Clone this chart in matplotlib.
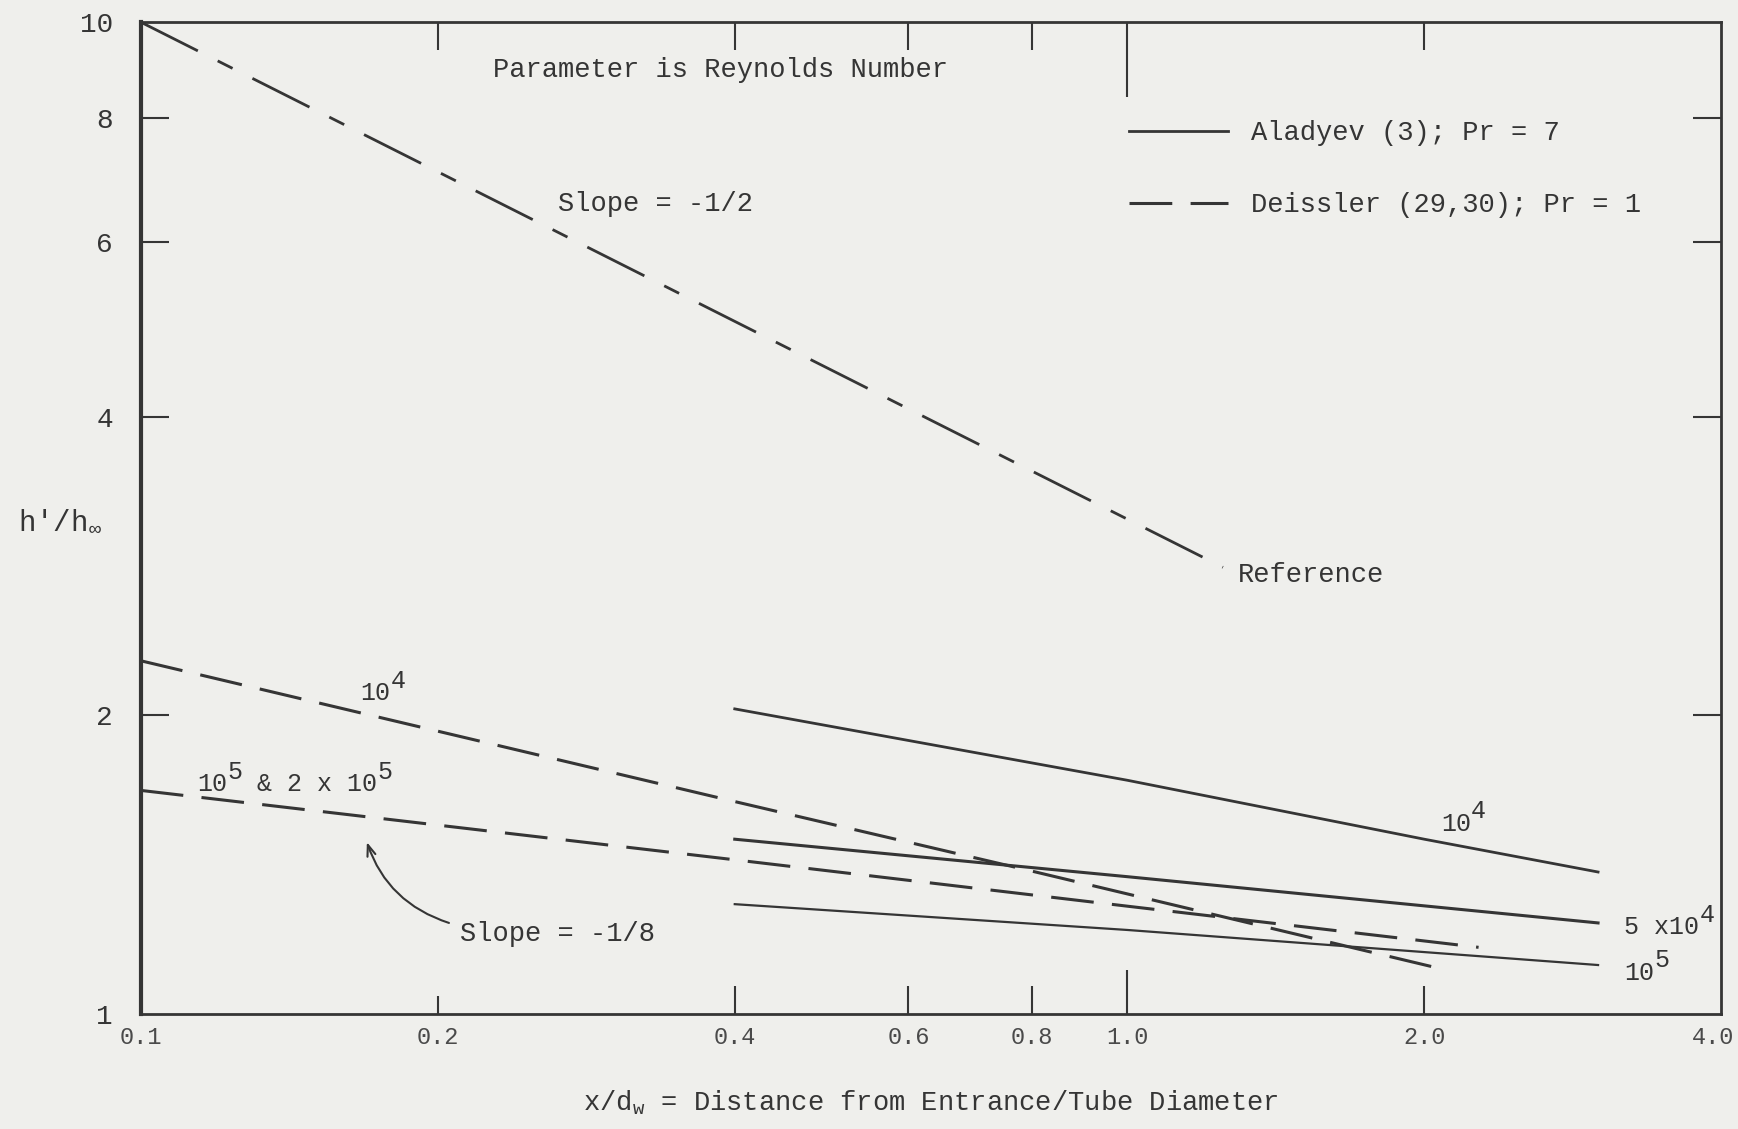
import numpy as np
import matplotlib
matplotlib.use("Agg")
import matplotlib.pyplot as plt
import matplotlib.transforms as mtrans

plt.rcParams['font.family'] = ['Liberation Mono', 'DejaVu Sans Mono']
plt.rcParams['mathtext.fontset'] = 'custom'
plt.rcParams['mathtext.rm'] = 'Liberation Mono'
plt.rcParams['mathtext.it'] = 'Liberation Mono'
plt.rcParams['mathtext.bf'] = 'Liberation Mono:bold'

# reference curve, slope -1/2
ref_x = [0.1, 1.25]
ref_y = [10.0, 2.82]

# Deissler (29,30), Pr = 1
deis_1e4_x = [0.1, 0.4, 0.8, 2.05]
deis_1e4_y = [2.27, 1.637, 1.393, 1.114]
deis_1e5_x = [0.1, 0.4, 1.0, 2.27]
deis_1e5_y = [1.68, 1.43, 1.284, 1.167]

# Aladyev (3), Pr = 7
alad_1e4_x = [0.4, 1.0, 2.0, 3.0]
alad_1e4_y = [2.03, 1.72, 1.50, 1.39]
alad_5e4_x = [0.4, 1.0, 3.0]
alad_5e4_y = [1.50, 1.375, 1.235]
alad_1e5_x = [0.4, 1.0, 3.0]
alad_1e5_y = [1.29, 1.215, 1.12]

xticks = [0.1, 0.2, 0.4, 0.6, 0.8, 1.0, 2.0, 4.0]
xtick_labels = ['0.1', '0.2', '0.4', '0.6', '0.8', '1.0', '2.0', '4.0']
yticks = [1, 2, 4, 6, 8, 10]
ytick_labels = ['1', '2', '4', '6', '8', '10']

ink = '#353535'
paper = '#efefec'

fig = plt.figure(figsize=(17.38, 11.29), dpi=100, facecolor=paper)
ax = fig.add_axes([0.081, 0.102, 0.9094, 0.8784], facecolor=paper)
ax.set_xscale('log')
ax.set_yscale('log')
ax.set_xlim(0.1, 4.0)
ax.set_ylim(1, 10)

ref_dash = (23, 8, 6, 8)
deis_dash = (14, 6)

ax.plot(ref_x, ref_y, color=ink, lw=2.0, dashes=ref_dash)
l_deis, = ax.plot(deis_1e4_x, deis_1e4_y, color=ink, lw=2.2, dashes=deis_dash,
                  label='Deissler (29,30); Pr = 1')
ax.plot(deis_1e5_x, deis_1e5_y, color=ink, lw=2.2, dashes=deis_dash)
l_alad, = ax.plot(alad_1e4_x, alad_1e4_y, color=ink, lw=2.0,
                  label='Aladyev (3); Pr = 7')
ax.plot(alad_5e4_x, alad_5e4_y, color=ink, lw=2.2)
ax.plot(alad_1e5_x, alad_1e5_y, color=ink, lw=1.6)

# axes frame and ticks
for side, w in [('left', 3.0), ('bottom', 2.0), ('top', 2.0), ('right', 2.0)]:
    ax.spines[side].set_linewidth(w)
    ax.spines[side].set_color(ink)
ax.minorticks_off()
ax.set_xticks(xticks)
ax.set_xticklabels(xtick_labels)
ax.set_yticks(yticks)
ax.set_yticklabels(ytick_labels)
ax.tick_params(axis='both', which='major', direction='in', top=True, right=True,
               length=20, width=1.5, color=ink)
ax.tick_params(axis='x', labelsize=17, pad=9, labelcolor='#4a4a4a')
ax.tick_params(axis='y', labelsize=20, pad=20, labelcolor=ink)
ax.tick_params(which='minor', length=0)

for t, v in zip(ax.xaxis.get_major_ticks(), xticks):
    if v in (0.1, 4.0):
        t.tick1line.set_visible(False)
        t.tick2line.set_visible(False)
    elif v == 1.0:
        t.tick1line.set_markersize(32)
        t.tick2line.set_markersize(54)
    elif v == 0.2:
        t.tick1line.set_markersize(13)
    if v == 4.0:
        # keep the last label inside the page
        lab = t.label1
        lab.set_transform(lab.get_transform() +
                          mtrans.ScaledTranslation(-6 / 72, 0, fig.dpi_scale_trans))
for t, v in zip(ax.yaxis.get_major_ticks(), yticks):
    if v in (1, 10):
        t.tick1line.set_visible(False)
        t.tick2line.set_visible(False)

ax.set_xlabel(r'x/d$_{\rm w}$ = Distance from Entrance/Tube Diameter',
              fontsize=19.5, color=ink)
ax.xaxis.set_label_coords(0.5, -0.075)
ax.set_ylabel(r"h'/h$_\infty$", fontsize=21, color=ink, rotation=0,
              ha='center', va='center')
ax.yaxis.set_label_coords(-0.051, 0.497)


def typed(x, y, parts, size=18, rise=9):
    # typewriter-style label: raised pieces keep full size
    art = ax.text(x, y, parts[0][0], fontsize=size, color=ink, va='baseline')
    prev_up = parts[0][1]
    for s, up in parts[1:]:
        dy = (rise if up else 0) - (rise if prev_up else 0)
        art = ax.annotate(s, xy=(1, 0), xycoords=art, xytext=(0, dy),
                          textcoords='offset points', fontsize=size,
                          color=ink, va='bottom', ha='left')
        prev_up = up


# annotations
ax.text(0.2277, 8.95, 'Parameter is Reynolds Number', fontsize=19.5,
        color=ink, va='center')
ax.text(0.2645, 6.56, 'Slope = -1/2', fontsize=19.5, color=ink, va='center')
ax.text(1.295, 2.77, 'Reference', fontsize=19.5, color=ink, va='center')
typed(0.167, 2.07, [('10', False), ('4', True)])
typed(0.114, 1.677, [('10', False), ('5', True), (' & 2 x 10', False), ('5', True)])
ax.text(0.2107, 1.203, 'Slope = -1/8', fontsize=19.5, color=ink, va='center')
ax.annotate('', xy=(0.1695, 1.49), xytext=(0.2053, 1.235),
            arrowprops=dict(arrowstyle='->,head_length=0.8,head_width=0.3',
                            connectionstyle='arc3,rad=-0.25', color=ink,
                            lw=1.5, shrinkA=0, shrinkB=0))
typed(2.08, 1.529, [('10', False), ('4', True)])
typed(3.19, 1.203, [('5 x10', False), ('4', True)])
typed(3.19, 1.083, [('10', False), ('5', True)])

leg = ax.legend(handles=[l_alad, l_deis], loc='upper left',
                bbox_to_anchor=(0.625, 0.901), frameon=False, fontsize=19.5,
                handlelength=3.67, handletextpad=0.85, labelspacing=1.7,
                borderpad=0, borderaxespad=0)
for txt in leg.get_texts():
    txt.set_color(ink)

plt.savefig('out.png', dpi=100, facecolor=paper)
